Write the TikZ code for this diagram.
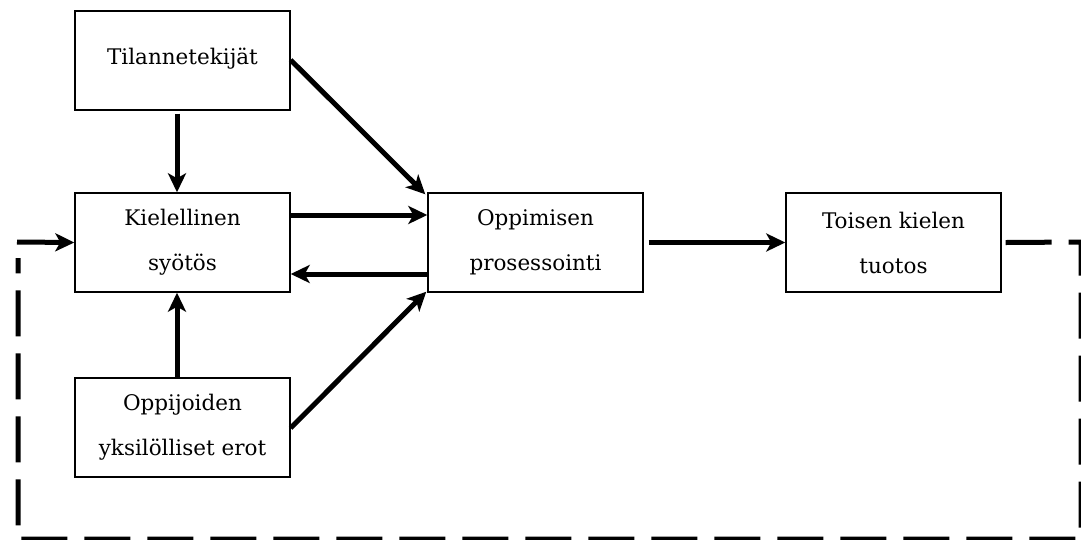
\documentclass[tikz,border=0pt]{standalone}
\usepackage{fontspec}
\setmainfont{DejaVu Serif}
\usetikzlibrary{arrows.meta}
\begin{document}
\begin{tikzpicture}[x=1pt,y=-1pt,
  box/.style={draw, line width=1.4pt, minimum width=215pt, minimum height=99pt, align=center, inner sep=0pt,
    font=\fontsize{21.5}{45}\selectfont},
  arr/.style={line width=5pt, -{Stealth[length=19pt,width=18pt,inset=5pt]}},
  dashline/.style={line width=5pt, dash pattern=on 46pt off 17pt}]
\useasboundingbox (0,0) rectangle (1081,539);
\node[box] (T) at (182.5,60.5) {\raisebox{9pt}{Tilannetekijät}};
\node[box] (K) at (182.5,242.5) {Kielellinen\\syötös};
\node[box] (Y) at (182.5,427.5) {Oppijoiden\\yksilölliset erot};
\node[box] (O) at (535.5,242.5) {Oppimisen\\prosessointi};
\node[box] (S) at (893.5,242.5) {Toisen kielen\\tuotos};
\coordinate (TR) at (1081,242);
\coordinate (BR) at (1081,539);
\coordinate (BL) at (18,539);
\coordinate (TL) at (18,242);
\draw[arr] ([yshift=-3pt]T.south -| 177,0) -- (K.north -| 177,0);
\draw[arr] (Y.north -| 177,0) -- (K.south -| 177,0);
\draw[arr] (T.east |- 0,60) -- ([xshift=-2pt,yshift=-2pt]O.north west);
\draw[arr] (K.east |- 0,215) -- (O.west |- 0,215);
\draw[arr] (O.west |- 0,274) -- (K.east |- 0,274);
\draw[arr] (Y.east |- 0,428) -- ([xshift=-1pt,yshift=1pt]O.south west);
\draw[arr] ([xshift=5pt]O.east) -- (S.west);
\draw[dashline] ([xshift=4pt]S.east) -- (TR) -- (BR) -- (BL) -- ([yshift=-16pt]TL);
\draw[arr] ([xshift=-1pt]TL) -- (K.west);
\end{tikzpicture}
\end{document}
